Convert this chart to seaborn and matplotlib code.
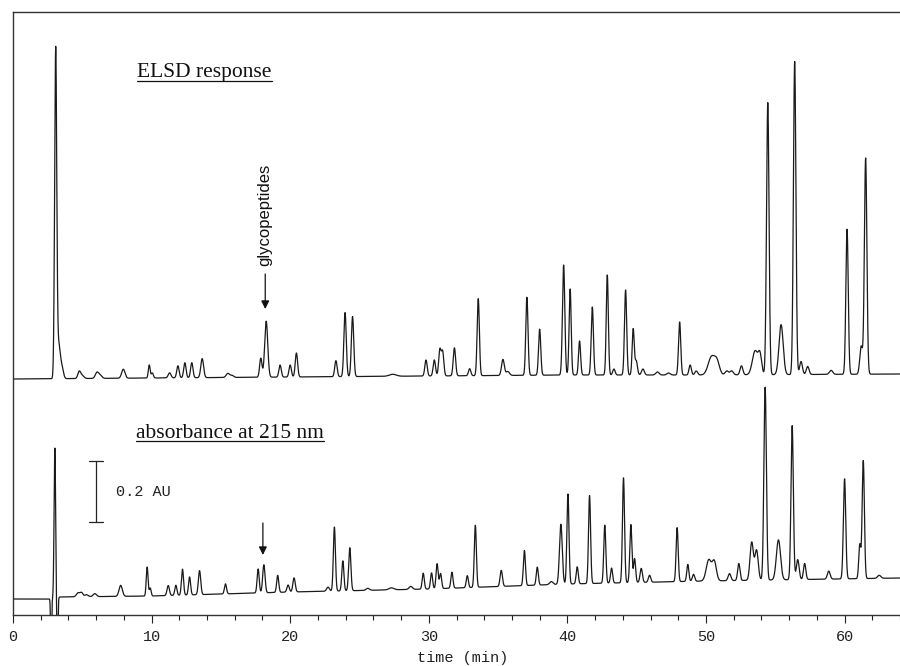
import numpy as np
import matplotlib
matplotlib.use("Agg")
import matplotlib.pyplot as plt
import seaborn as sns

# ---------------- data ----------------
# y values are in "pixel height above the x axis" units
elsd_peak_time = [3.08, 3.30, 3.55, 4.78, 5.00, 6.06, 6.30, 7.96, 9.83, 10.05,
                  11.3, 11.9, 12.4, 12.9, 13.65, 15.5, 15.8, 17.88, 18.27, 19.27,
                  20.0, 20.45, 23.3, 23.96, 24.5, 27.4, 29.8, 30.4, 30.8, 31.0,
                  31.85, 32.95, 33.57, 35.35, 35.7, 37.08, 38.0, 39.73, 40.2, 40.88,
                  41.8, 42.88, 43.36, 44.2, 44.75, 44.97, 45.45, 46.5, 47.3, 48.1,
                  48.86, 49.3, 50.4, 50.8, 51.5, 51.85, 52.56, 53.55, 53.9, 54.46,
                  55.42, 56.4, 56.86, 57.34, 59.03, 60.18, 61.2, 61.52]
elsd_peak_height = [326, 34, 9, 7, 3, 6, 3, 9, 13, 5,
                    5, 12, 15, 15, 19, 4, 2, 19, 56, 12,
                    12, 24, 16, 64, 60, 2, 16, 16, 26, 24,
                    28, 7, 77, 16, 4, 78, 46, 110, 86, 34,
                    68, 100, 6, 85, 46, 14, 6, 3, 2, 53,
                    10, 4, 18, 12, 4, 4, 9, 24, 18, 272,
                    50, 313, 13, 8, 4, 145, 28, 216]
elsd_peak_width = [0.075, 0.12, 0.1, 0.1, 0.12, 0.12, 0.12, 0.12, 0.065, 0.075,
                   0.1, 0.085, 0.085, 0.085, 0.1, 0.12, 0.12, 0.085, 0.11, 0.085,
                   0.085, 0.085, 0.085, 0.085, 0.085, 0.25, 0.085, 0.085, 0.085, 0.085,
                   0.085, 0.085, 0.08, 0.1, 0.12, 0.08, 0.08, 0.085, 0.075, 0.075,
                   0.08, 0.075, 0.085, 0.08, 0.075, 0.085, 0.1, 0.12, 0.12, 0.08,
                   0.085, 0.1, 0.24, 0.18, 0.12, 0.12, 0.1, 0.2, 0.12, 0.09,
                   0.15, 0.09, 0.1, 0.1, 0.12, 0.085, 0.1, 0.09]
elsd_base_time = [0, 10, 20, 30, 40, 50, 64]
elsd_base_level = [236, 237, 238, 239, 240, 240, 241]

abs_peak_time = [2.75, 3.02, 3.20, 4.7, 4.95, 5.3, 5.9, 7.77, 9.68, 9.9,
                 11.2, 11.75, 12.23, 12.74, 13.46, 15.33, 17.69, 18.1, 19.1, 19.85,
                 20.28, 22.73, 23.19, 23.8, 24.3, 25.6, 27.3, 28.7, 29.6, 30.2,
                 30.6, 30.85, 31.67, 32.78, 33.36, 35.23, 36.9, 37.83, 38.84, 39.53,
                 40.04, 40.71, 41.6, 42.7, 43.19, 44.05, 44.58, 44.85, 45.33, 45.93,
                 47.92, 48.69, 49.1, 50.2, 50.6, 51.7, 52.37, 53.3, 53.65, 54.27,
                 55.23, 56.22, 56.62, 57.12, 58.86, 60.0, 61.1, 61.35, 62.5]
abs_peak_height = [-60, 150, -60, 4, 4, 2, 3, 11, 29, 8,
                   10, 10, 26, 18, 24, 10, 24, 28, 17, 7,
                   14, 4, 64, 30, 43, 2, 2, 3, 16, 16,
                   25, 15, 16, 12, 62, 16, 35, 18, 3, 60,
                   90, 17, 88, 58, 15, 105, 58, 24, 14, 7,
                   54, 17, 7, 21, 19, 7, 17, 38, 30, 193,
                   40, 154, 20, 16, 8, 100, 34, 118, 3]
abs_peak_width = [0.035, 0.055, 0.04, 0.12, 0.1, 0.12, 0.12, 0.12, 0.065, 0.065,
                  0.085, 0.075, 0.075, 0.075, 0.085, 0.075, 0.075, 0.085, 0.075, 0.085,
                  0.085, 0.1, 0.075, 0.075, 0.08, 0.12, 0.18, 0.12, 0.075, 0.075,
                  0.075, 0.075, 0.075, 0.075, 0.075, 0.085, 0.075, 0.075, 0.12, 0.1,
                  0.075, 0.075, 0.075, 0.075, 0.075, 0.075, 0.075, 0.075, 0.085, 0.085,
                  0.075, 0.075, 0.085, 0.18, 0.15, 0.1, 0.085, 0.12, 0.12, 0.09,
                  0.15, 0.085, 0.1, 0.085, 0.1, 0.085, 0.075, 0.08, 0.12]
abs_base_time = [0, 2.7, 3.4, 10, 20, 30, 40, 50, 64]
abs_base_level = [16, 16, 18, 19, 23, 26, 31, 34, 37]

x_ticks_major = [0, 10, 20, 30, 40, 50, 60]

# ---------------- build traces ----------------
t = np.linspace(0, 64, 9601)


def trace(base_t, base_v, pt, ph, pw):
    y = np.interp(t, base_t, base_v).astype(float)
    for c, h, w in zip(pt, ph, pw):
        y += h * np.exp(-0.5 * ((t - c) / w) ** 2)
    return y


elsd = trace(elsd_base_time, elsd_base_level, elsd_peak_time, elsd_peak_height, elsd_peak_width)
absb = trace(abs_base_time, abs_base_level, abs_peak_time, abs_peak_height, abs_peak_width)

# ---------------- plot ----------------
sns.set_style("white")
plt.rcParams["font.family"] = ["Liberation Mono", "DejaVu Sans"]

fig = plt.figure(figsize=(9, 6.66), dpi=100)
ax = fig.add_axes([13 / 900, 1 - 615 / 666, 887 / 900, 603 / 666])

line_col = "#1a1a1a"
sns.lineplot(x=t, y=elsd, ax=ax, color=line_col, lw=0.9, estimator=None, sort=False)
sns.lineplot(x=t, y=absb, ax=ax, color=line_col, lw=0.9, estimator=None, sort=False)

ax.set_xlim(0, 64)
ax.set_ylim(0, 603)
ax.set_yticks([])
ax.set_xticks(x_ticks_major)
ax.set_xticks(np.arange(0, 65, 2), minor=True)
ax.set_xticklabels([str(v) for v in x_ticks_major])
ax.tick_params(axis="x", which="major", direction="out", length=6, width=0.8,
               pad=5, labelsize=11, colors="#222222", bottom=True)
ax.tick_params(axis="x", which="minor", direction="out", length=3.6, width=0.8,
               colors="#222222", bottom=True)
for side in ["top", "left", "bottom"]:
    ax.spines[side].set_visible(True)
    ax.spines[side].set_color("#333333")
    ax.spines[side].set_linewidth(1.0)
ax.spines["right"].set_visible(False)

ax.set_xlabel("time (min)", fontsize=11, family=["Liberation Mono"], color="#222222")
ax.xaxis.set_label_coords((463 - 13) / 887, (615 - 662) / 603)
ax.xaxis.label.set_va("baseline")

# titles with underline
serif = ["Liberation Serif", "DejaVu Serif"]
t1 = ax.text(8.96, 538, "ELSD response", family=serif, fontsize=15.5,
             ha="left", va="baseline", color="#111111")
t2 = ax.text(8.88, 177.5, "absorbance at 215 nm", family=serif, fontsize=15.5,
             ha="left", va="baseline", color="#111111")
fig.canvas.draw()
inv = ax.transData.inverted()
for txt, yb in [(t1, 538), (t2, 177.5)]:
    bb = txt.get_window_extent()
    x0 = inv.transform((bb.x0, 0))[0]
    x1 = inv.transform((bb.x1, 0))[0]
    ax.plot([x0, x1], [yb - 3.5, yb - 3.5], color="#111111", lw=0.9)

# glycopeptides label + arrows
ax.text(18.2, 400, "glycopeptides", family=["Liberation Sans", "DejaVu Sans"],
        fontsize=12, rotation=90, ha="center", va="center", color="#111111")
ax.annotate("", xy=(18.2, 306), xytext=(18.2, 341),
            arrowprops=dict(arrowstyle="-|>", color="#111111", lw=0.9,
                            mutation_scale=12, shrinkA=0, shrinkB=0))
ax.annotate("", xy=(18.03, 60), xytext=(18.03, 92),
            arrowprops=dict(arrowstyle="-|>", color="#111111", lw=0.9,
                            mutation_scale=12, shrinkA=0, shrinkB=0))

# 0.2 AU scale bar
ax.plot([5.96, 5.96], [93.5, 154], color="#222222", lw=0.9)
ax.plot([5.45, 6.5], [154, 154], color="#222222", lw=0.9)
ax.plot([5.45, 6.5], [93.5, 93.5], color="#222222", lw=0.9)
ax.text(7.43, 123.5, "0.2 AU", family=["Liberation Mono"], fontsize=11,
        ha="left", va="center", color="#222222")

fig.savefig("out.png", dpi=100)
